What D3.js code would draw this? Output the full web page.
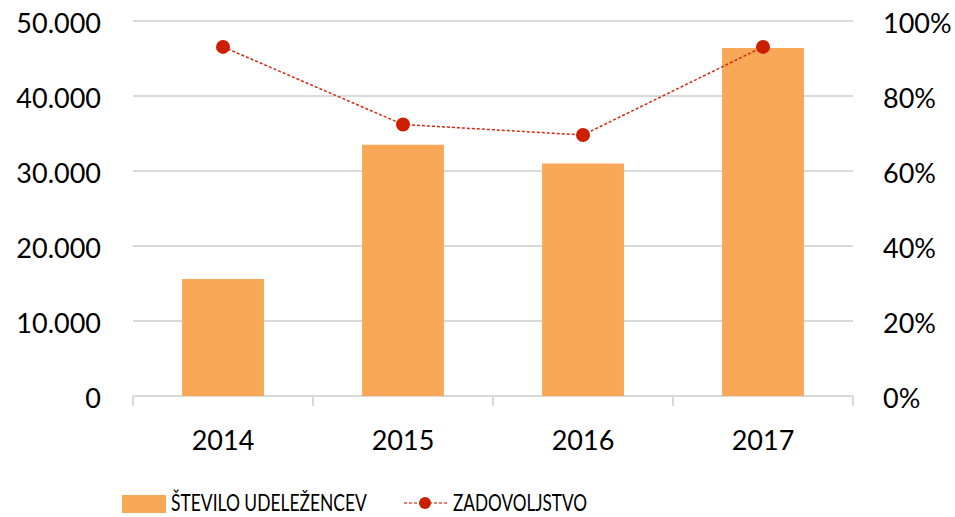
<!DOCTYPE html>
<meta charset="utf-8" />
<title>Udeleženci in zadovoljstvo</title>
<style>
  body { margin: 0; background: #fff; }
  text { font-family: Lato, "Open Sans", sans-serif; fill: #000; }
  .grid line { stroke: #d9d9d9; stroke-width: 2; }
</style>
<body>
<script src="https://d3js.org/d3.v7.min.js"></script>
<script>
  // data
  var years = ["2014", "2015", "2016", "2017"];
  var participants = [15600, 33500, 31000, 46400];
  var satisfaction = [0.931, 0.724, 0.696, 0.931];
  var leftTicks = [0, 10000, 20000, 30000, 40000, 50000];
  var rightTicks = [0, 0.2, 0.4, 0.6, 0.8, 1];
  var barName = "ŠTEVILO UDELEŽENCEV", lineName = "ZADOVOLJSTVO";

  var width = 955, height = 517;
  var plot = { left: 133, right: 853, top: 21, bottom: 396 };

  var svg = d3.select("body").append("svg")
    .attr("width", width)
    .attr("height", height);

  var x = d3.scaleBand()
    .domain(years)
    .range([plot.left, plot.right])
    .paddingInner(0.545)
    .paddingOuter(0.2725);

  var yLeft = d3.scaleLinear().domain([0, 50000]).range([plot.bottom, plot.top]);
  var yRight = d3.scaleLinear().domain([0, 1]).range([plot.bottom, plot.top]);

  var fmtLeft = function(d) { return d3.format(",")(d).replace(/,/g, "."); };
  var fmtRight = d3.format(".0%");

  // gridlines
  svg.append("g").attr("class", "grid")
    .selectAll("line")
    .data(leftTicks)
    .enter().append("line")
    .attr("x1", plot.left)
    .attr("x2", plot.right)
    .attr("y1", function(d) { return Math.round(yLeft(d)); })
    .attr("y2", function(d) { return Math.round(yLeft(d)); });

  // category tick marks under the axis
  var step = (plot.right - plot.left) / years.length;
  svg.append("g").attr("class", "grid")
    .selectAll("line")
    .data(d3.range(years.length + 1))
    .enter().append("line")
    .attr("x1", function(i) { return plot.left + i * step; })
    .attr("x2", function(i) { return plot.left + i * step; })
    .attr("y1", plot.bottom)
    .attr("y2", plot.bottom + 10);

  // left axis labels
  svg.append("g")
    .selectAll("text")
    .data(leftTicks)
    .enter().append("text")
    .attr("x", 101)
    .attr("y", function(d) { return yLeft(d) + 3; })
    .attr("dy", "0.35em")
    .attr("text-anchor", "end")
    .style("font-size", "27px")
    .text(fmtLeft);

  // right axis labels
  svg.append("g")
    .selectAll("text")
    .data(rightTicks)
    .enter().append("text")
    .attr("x", 883)
    .attr("y", function(d) { return yRight(d) + 3; })
    .attr("dy", "0.35em")
    .style("font-size", "27px")
    .text(fmtRight);

  // category labels
  svg.append("g")
    .selectAll("text")
    .data(years)
    .enter().append("text")
    .attr("x", function(d) { return x(d) + x.bandwidth() / 2; })
    .attr("y", 441)
    .attr("dy", "0.35em")
    .attr("text-anchor", "middle")
    .style("font-size", "27px")
    .text(function(d) { return d; });

  // bars
  svg.append("g")
    .selectAll("rect")
    .data(participants)
    .enter().append("rect")
    .attr("x", function(d, i) { return x(years[i]); })
    .attr("y", function(d) { return yLeft(d); })
    .attr("width", x.bandwidth())
    .attr("height", function(d) { return plot.bottom - yLeft(d); })
    .attr("fill", "#f9a857");

  // satisfaction line
  var line = d3.line()
    .x(function(d, i) { return x(years[i]) + x.bandwidth() / 2; })
    .y(function(d) { return yRight(d); });

  svg.append("path")
    .datum(satisfaction)
    .attr("d", line)
    .attr("fill", "none")
    .attr("stroke", "#d42a12")
    .attr("stroke-width", 1.5)
    .attr("stroke-dasharray", "3,2");

  svg.append("g")
    .selectAll("circle")
    .data(satisfaction)
    .enter().append("circle")
    .attr("cx", function(d, i) { return x(years[i]) + x.bandwidth() / 2; })
    .attr("cy", function(d) { return yRight(d); })
    .attr("r", 7)
    .attr("fill", "#cc1f00");

  // legend (labels squeezed horizontally to the narrow width of the original face)
  var legend = svg.append("g");
  legend.append("rect")
    .attr("x", 122).attr("y", 495)
    .attr("width", 44).attr("height", 18)
    .attr("fill", "#f9a857");
  legend.append("line")
    .attr("x1", 404).attr("x2", 447)
    .attr("y1", 503).attr("y2", 503)
    .attr("stroke", "#e8806e")
    .attr("stroke-width", 2)
    .attr("stroke-dasharray", "3,2");
  legend.append("circle")
    .attr("cx", 425).attr("cy", 503).attr("r", 6)
    .attr("fill", "#cc1f00");

  function legendLabel(label, x0, w) {
    var g = legend.append("g");
    var t = g.append("text")
      .attr("x", 0).attr("y", 0)
      .style("font-size", "24px")
      .text(label);
    var sx = w / t.node().getComputedTextLength();
    g.attr("transform", "translate(" + x0 + ",511) scale(" + sx + ",1)");
  }
  legendLabel(barName, 171, 196);
  legendLabel(lineName, 453, 134);
</script>
</body>
